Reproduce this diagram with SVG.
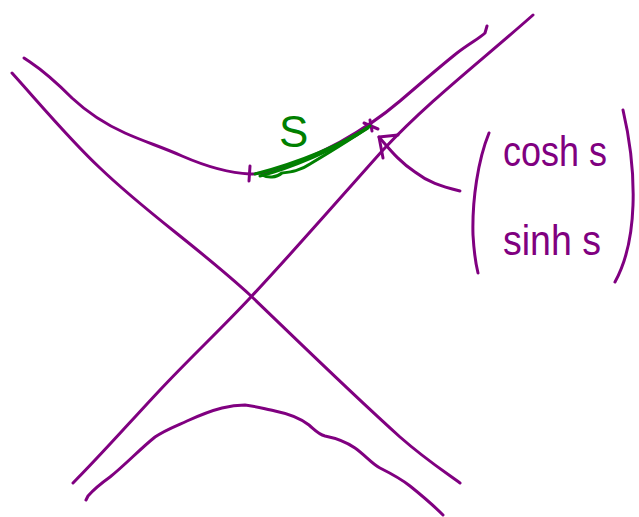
<svg xmlns="http://www.w3.org/2000/svg" width="639" height="517" viewBox="0 0 639 517">
<style>
.p{fill:none;stroke:#800080;stroke-width:3;stroke-linecap:round;stroke-linejoin:round}
.g{fill:none;stroke:#008000;stroke-width:3;stroke-linecap:round;stroke-linejoin:round}
.tp{font-family:"Liberation Sans",Arial,sans-serif;fill:#800080}
.tg{font-family:"Liberation Sans",Arial,sans-serif;fill:#008000}
</style>
<rect width="639" height="517" fill="#fff"/>
<g id="asymptotes">
<path class="p" d="M12,73 C40,104 70,140 100,168 C125,192 150,212 175,232 C200,252 225,272 250,295 C300,343 350,392 400,437 C425,459 445,472 460,483"/>
<path class="p" d="M73,483 C100,456 130,422 160,390 C190,358 220,330 250,298 C295,250 340,198 383,150 C430,100 480,62 533,15"/>
</g>
<g id="hyperbola-top">
<path class="p" d="M24,58 L30,62 C45,72 58,84 72,98 C88,113 105,124 125,133 C145,142 162,147 182,156 C205,166 228,173 250,174 C275,174 310,158 340,142 C362,130 380,118 400,101 C420,84 437,69 457,53 C470,43 480,38 485,33 L487,26"/>
</g>
<g id="hyperbola-bottom">
<path class="p" d="M86,500 L88,496 C95,488 103,482 110,477 C125,465 140,449 155,437 C165,430 176,426 187,421 C198,416 210,411 222,408 C230,406 237,405 245,405 C255,406 265,409 275,411 C290,414 300,418 309,425 C315,430 318,434 325,436 C335,438 345,441 355,448 C365,455 372,464 380,468 C390,473 400,478 410,486 C420,494 432,504 443,515"/>
</g>
<g id="arc-s">
<path class="p" d="M250,166 L249,181"/>
<path class="p" d="M364,123 L378,129 M370,120 L372,131"/>
<path class="g" d="M255,174 C285,166 330,152 370,126"/>
<path class="g" d="M260,176 C290,168 335,150 368,128"/>
<path class="g" d="M262,175 C268,178 276,178 282,173 C290,172 300,171 310,164 C330,152 350,140 367,128"/>
<text class="tg" x="279" y="147" font-size="44">S</text>
</g>
<g id="arrow">
<path class="p" d="M460,191 C440,186 428,182 415,172 C400,162 392,152 379,137"/>
<path class="p" d="M379,137 L383,158 M379,137 L398,135"/>
</g>
<g id="vector">
<path class="p" d="M489,133 C478,160 472,200 473,235 C474,252 476,265 478,273"/>
<path class="p" d="M623,110 C630,140 634,175 633,205 C632,235 626,262 615,282"/>
<text class="tp" x="503" y="166" font-size="42" textLength="104" lengthAdjust="spacingAndGlyphs">cosh s</text>
<text class="tp" x="503" y="255" font-size="42" textLength="98" lengthAdjust="spacingAndGlyphs">sinh s</text>
</g>
</svg>
